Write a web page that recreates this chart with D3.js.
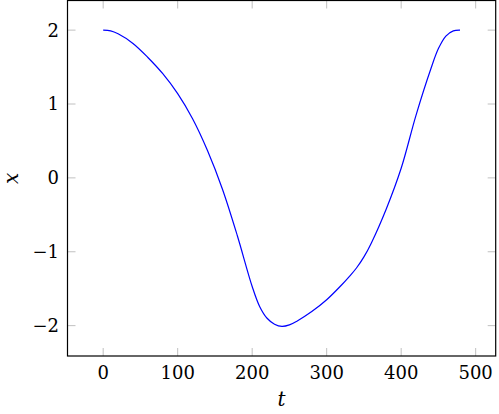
<!DOCTYPE html>
<html>
<head>
<meta charset="utf-8">
<script src="https://cdn.jsdelivr.net/npm/d3@7"></script>
<style>
  body { margin: 0; background: white; }
</style>
</head>
<body>
<div id="chart"></div>
<script>
// values
const tValues = [0, 10, 20, 40, 60, 80, 100, 120, 140, 160, 180, 200, 210, 220, 230, 240, 250, 260, 280, 300, 320, 330, 340, 350, 360, 380, 400, 420, 440, 450, 460, 470, 479]
const xValues = [2.00, 1.99, 1.95, 1.82, 1.63, 1.41, 1.14, 0.80, 0.37, -0.15, -0.78, -1.47, -1.74, -1.90, -1.98, -2.01, -1.99, -1.94, -1.81, -1.65, -1.45, -1.34, -1.22, -1.07, -0.88, -0.42, 0.13, 0.85, 1.48, 1.75, 1.92, 1.99, 2.00]
const tTicks = [0, 100, 200, 300, 400, 500]
const xTicks = [-2, -1, 0, 1, 2]

const data = tValues.map((t, i) => ({t: t, x: xValues[i]}))

const width = 499, height = 414
const boxLeft = 67.5, boxRight = 495.7, boxTop = 0.5, boxBottom = 356
const fontFam = "'DejaVu Serif', serif"

const svg = d3.select("#chart").append("svg")
    .attr("width", width)
    .attr("height", height)

// pgfplots style: 10% enlargement on each side
const tPad = (d3.max(tValues) - d3.min(tValues)) * 0.1
const xPad = (d3.max(xValues) - d3.min(xValues)) * 0.1

const x = d3.scaleLinear()
    .domain([d3.min(tValues) - tPad, d3.max(tValues) + tPad])
    .range([boxLeft, boxRight])

const y = d3.scaleLinear()
    .domain([d3.min(xValues) - xPad, d3.max(xValues) + xPad])
    .range([boxBottom, boxTop])

const tickLen = 8
const tickColor = "#b0b0b0"

// ticks on all four sides, pointing inward
const g = svg.append("g")
g.selectAll(".tb").data(tTicks).enter().append("line")
    .attr("x1", d => x(d)).attr("x2", d => x(d))
    .attr("y1", boxBottom).attr("y2", boxBottom - tickLen)
    .attr("stroke", tickColor).attr("stroke-width", 0.8)
g.selectAll(".tt").data(tTicks).enter().append("line")
    .attr("x1", d => x(d)).attr("x2", d => x(d))
    .attr("y1", boxTop).attr("y2", boxTop + tickLen)
    .attr("stroke", tickColor).attr("stroke-width", 0.8)
g.selectAll(".yl").data(xTicks).enter().append("line")
    .attr("x1", boxLeft).attr("x2", boxLeft + tickLen)
    .attr("y1", d => y(d)).attr("y2", d => y(d))
    .attr("stroke", tickColor).attr("stroke-width", 0.8)
g.selectAll(".yr").data(xTicks).enter().append("line")
    .attr("x1", boxRight).attr("x2", boxRight - tickLen)
    .attr("y1", d => y(d)).attr("y2", d => y(d))
    .attr("stroke", tickColor).attr("stroke-width", 0.8)

// tick labels
svg.append("g").selectAll("text").data(tTicks).enter().append("text")
    .attr("x", d => x(d))
    .attr("y", 379)
    .attr("text-anchor", "middle")
    .attr("font-family", fontFam)
    .attr("font-size", 18)
    .text(d => d)

svg.append("g").selectAll("text").data(xTicks).enter().append("text")
    .attr("x", 59)
    .attr("y", d => y(d))
    .attr("dy", "0.36em")
    .attr("text-anchor", "end")
    .attr("font-family", fontFam)
    .attr("font-size", 18)
    .text(d => d < 0 ? "\u2212" + Math.abs(d) : d)

// the curve
const line = d3.line()
    .x(d => x(d.t))
    .y(d => y(d.x))
    .curve(d3.curveCatmullRom)

svg.append("path")
    .datum(data)
    .attr("fill", "none")
    .attr("stroke", "#0000ff")
    .attr("stroke-width", 1.2)
    .attr("d", line)

// axis box
svg.append("rect")
    .attr("x", boxLeft).attr("y", boxTop)
    .attr("width", boxRight - boxLeft).attr("height", boxBottom - boxTop)
    .attr("fill", "none")
    .attr("stroke", "black")
    .attr("stroke-width", 1.2)

// axis labels
svg.append("text")
    .attr("x", (boxLeft + boxRight) / 2)
    .attr("y", 406)
    .attr("text-anchor", "middle")
    .attr("font-family", fontFam)
    .attr("font-size", 20)
    .attr("font-style", "italic")
    .text("t")

svg.append("text")
    .attr("transform", `translate(18,${(boxTop + boxBottom) / 2}) rotate(-90)`)
    .attr("text-anchor", "middle")
    .attr("font-family", fontFam)
    .attr("font-size", 20)
    .attr("font-style", "italic")
    .text("x")
</script>
</body>
</html>
